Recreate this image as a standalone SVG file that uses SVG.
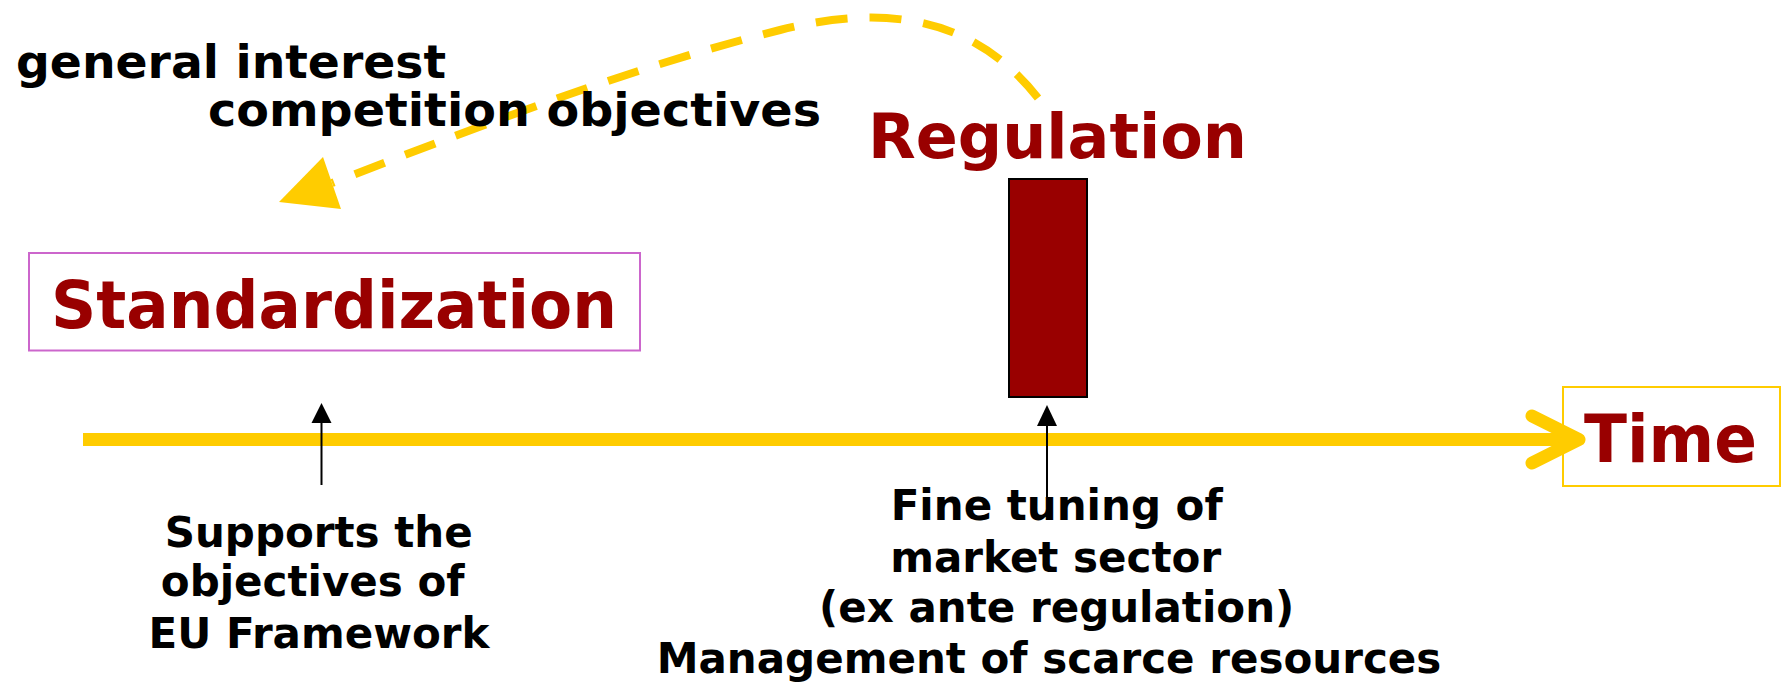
<svg xmlns="http://www.w3.org/2000/svg" width="1783" height="683" viewBox="0 0 1783 683">
  <defs>
    <style>
      .lbl { font-family: "DejaVu Sans", Verdana, sans-serif; font-weight: bold; fill: #000000; }
      .big { font-family: "DejaVu Sans", Verdana, sans-serif; font-weight: bold; fill: #990000; }
      .thin { stroke: #000000; stroke-width: 2; fill: none; }
      .head { fill: #000000; stroke: none; }
      .gold { stroke: #FFCC00; fill: none; }
    </style>
  </defs>
  <rect width="1783" height="683" fill="#ffffff"/>

  <g id="connectors">
    <!-- timeline -->
    <line class="gold" x1="83" y1="439.5" x2="1576" y2="439.5" stroke-width="13"/>
    <polyline class="gold" points="1532,416 1579,439.5 1532,463" stroke-width="13" stroke-linecap="round" stroke-linejoin="round"/>
    <!-- dashed curved arrow -->
    <path class="gold" d="M1038,98 C980,25 900,0 780,30 C640,65 500,118 332,183" stroke-width="8" stroke-dasharray="32 22"/>
    <polygon points="279,202 323,157 341,209" fill="#FFCC00"/>
    <!-- small arrow under standardization -->
    <line class="thin" x1="321.5" y1="485" x2="321.5" y2="418"/>
    <polygon class="head" points="321.5,403 311.5,423 331.5,423"/>
    <!-- small arrow under regulation -->
    <line class="thin" x1="1047" y1="497" x2="1047" y2="420"/>
    <polygon class="head" points="1047,405 1037,426 1057,426"/>
  </g>

  <g id="standardization">
    <rect x="29" y="253" width="611" height="97.5" fill="#ffffff" stroke="#CC66CC" stroke-width="2"/>
    <text class="big" x="51" y="328" font-size="65" textLength="566" lengthAdjust="spacingAndGlyphs">Standardization</text>
  </g>

  <g id="regulation">
    <text class="big" x="868" y="158" font-size="63" textLength="379" lengthAdjust="spacingAndGlyphs">Regulation</text>
    <rect x="1009" y="179" width="78" height="218" fill="#990000" stroke="#000000" stroke-width="2"/>
  </g>

  <g id="time">
    <rect x="1563" y="387" width="217" height="99" fill="none" stroke="#FFCC00" stroke-width="2"/>
    <text class="big" x="1584" y="462" font-size="65" textLength="173" lengthAdjust="spacingAndGlyphs">Time</text>
  </g>

  <g id="objectives-label">
    <text class="lbl" x="16" y="78" font-size="47" textLength="430" lengthAdjust="spacingAndGlyphs">general interest</text>
    <text class="lbl" x="208" y="126" font-size="47" textLength="613" lengthAdjust="spacingAndGlyphs">competition objectives</text>
  </g>

  <g id="standardization-note">
    <text class="lbl" font-size="42" text-anchor="middle">
      <tspan x="326" y="547">Supports the</tspan>
      <tspan x="320" y="596">objectives of</tspan>
      <tspan x="319" y="648">EU Framework</tspan>
    </text>
  </g>

  <g id="regulation-note">
    <text class="lbl" font-size="42" text-anchor="middle">
      <tspan x="1064" y="520">Fine tuning of</tspan>
      <tspan x="1063" y="572">market sector</tspan>
      <tspan x="1064" y="622">(ex ante regulation)</tspan>
      <tspan x="1049" y="673">Management of scarce resources</tspan>
    </text>
  </g>
</svg>
